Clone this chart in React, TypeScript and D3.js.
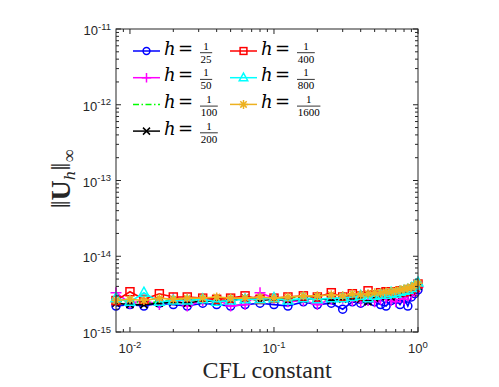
import React from "react";
import * as d3 from "d3";

// CFL values (shared by all runs)
const cfl = [0.008, 0.01, 0.0125, 0.016, 0.02, 0.025, 0.032, 0.04, 0.05, 0.063, 0.08, 0.1, 0.125, 0.16, 0.2, 0.25, 0.3, 0.35, 0.4, 0.45, 0.5, 0.55, 0.6, 0.65, 0.7, 0.75, 0.8, 0.85, 0.9, 0.95, 1.0];

// error values, in units of 1e-15
const h25 = [2.2, 2.3, 2.2, 2.4, 2.3, 2.2, 2.4, 2.3, 2.2, 2.3, 2.4, 2.3, 2.2, 2.5, 2.3, 2.4, 2.0, 2.5, 2.4, 2.6, 2.5, 2.3, 2.2, 2.6, 2.7, 2.3, 2.8, 2.2, 2.9, 3.2, 3.6];
const h50 = [3.3, 2.4, 2.6, 2.3, 2.8, 2.2, 2.6, 2.7, 2.2, 2.3, 3.3, 2.8, 2.5, 2.6, 2.3, 2.7, 2.8, 2.6, 2.5, 2.6, 2.5, 2.7, 2.8, 2.6, 2.5, 2.9, 2.7, 3.0, 3.1, 3.4, 3.9];
const h100 = [2.5, 2.6, 2.4, 2.5, 2.7, 2.6, 2.7, 2.9, 2.6, 2.7, 2.8, 2.7, 2.8, 2.9, 2.7, 2.8, 2.9, 3.0, 2.9, 3.0, 3.1, 3.0, 3.2, 3.1, 3.3, 3.4, 3.5, 3.6, 3.8, 4.0, 4.2];
const h200 = [2.4, 2.3, 2.3, 2.4, 2.5, 2.4, 2.6, 2.5, 2.6, 2.8, 2.6, 2.7, 2.6, 2.7, 2.8, 2.6, 2.7, 2.8, 2.7, 2.5, 2.8, 2.9, 3.0, 2.9, 3.1, 3.2, 3.3, 3.3, 3.5, 3.7, 4.0];
const h400 = [2.6, 3.4, 2.7, 3.2, 2.9, 2.9, 2.8, 2.7, 2.8, 3.0, 2.7, 2.8, 2.9, 3.0, 2.9, 3.3, 2.9, 3.2, 3.0, 3.5, 3.1, 3.3, 3.4, 3.2, 3.4, 3.5, 3.4, 3.6, 3.7, 3.9, 4.3];
const h800 = [2.8, 2.5, 3.3, 2.5, 2.6, 2.6, 2.7, 2.5, 2.6, 2.7, 2.7, 2.8, 2.6, 2.8, 2.7, 2.8, 2.8, 2.9, 3.0, 2.8, 3.0, 3.1, 3.1, 3.3, 3.2, 3.4, 3.5, 3.6, 3.8, 4.1, 4.5];
const h1600 = [2.6, 2.7, 2.6, 2.8, 2.7, 2.8, 2.8, 2.9, 2.8, 2.8, 2.9, 2.8, 2.9, 3.0, 3.0, 3.1, 3.0, 3.2, 3.1, 3.2, 3.3, 3.3, 3.4, 3.4, 3.5, 3.6, 3.7, 3.8, 3.9, 4.1, 4.4];

const denoms = ["25", "50", "100", "200", "400", "800", "1600"];
const colors = ["#0000ff", "#ff00ff", "#00ff00", "#000000", "#ff0000", "#00ffff", "#edb120"];
const markers = ["circle", "plus", "none", "cross", "square", "triangle", "star"];
const seriesVals = [h25, h50, h100, h200, h400, h800, h1600];

const xTickExp = [-2, -1, 0];
const yTickExp = [-15, -14, -13, -12, -11];

const W = 499, H = 387;
const left = 116, right = 418, top = 29, bottom = 332;

const x = d3.scaleLog().domain([0.008, 1]).range([left, right]);
const y = d3.scaleLog().domain([1e-15, 1e-11]).range([bottom, top]);

const Marker = ({ type, cx, cy, color, k = 1 }: { type: string; cx: number; cy: number; color: string; k?: number }) => {
  const p = { fill: "none", stroke: color, strokeWidth: 1.5 };
  if (type === "circle") return <circle cx={cx} cy={cy} r={4 * k} {...p} />;
  if (type === "plus") return <path d={`M${cx - 5.5 * k},${cy}H${cx + 5.5 * k}M${cx},${cy - 5.5 * k}V${cy + 5.5 * k}`} {...p} />;
  if (type === "cross") return <path d={`M${cx - 3.5},${cy - 3.5}L${cx + 3.5},${cy + 3.5}M${cx - 3.5},${cy + 3.5}L${cx + 3.5},${cy - 3.5}`} {...p} />;
  if (type === "square") return <rect x={cx - 4 * k} y={cy - 4 * k} width={8 * k} height={8 * k} {...p} />;
  if (type === "triangle") return <path d={`M${cx},${cy - 5.5 * k}L${cx + 5 * k},${cy + 3.5 * k}L${cx - 5 * k},${cy + 3.5 * k}Z`} {...p} />;
  if (type === "star")
    return <path d={`M${cx - 4.5},${cy}H${cx + 4.5}M${cx},${cy - 4.5}V${cy + 4.5}M${cx - 3.2},${cy - 3.2}L${cx + 3.2},${cy + 3.2}M${cx - 3.2},${cy + 3.2}L${cx + 3.2},${cy - 3.2}`} {...p} />;
  return null;
};

const App = () => {
  const line = d3.line<[number, number]>().x((d) => x(d[0])).y((d) => y(d[1]));

  const xMinor: number[] = [];
  [0.001, 0.01, 0.1].forEach((b) => { for (let k = 2; k <= 9; k++) { const v = b * k; if (v > 0.008 && v < 1) xMinor.push(v); } });
  const yMinor: number[] = [];
  [1e-15, 1e-14, 1e-13, 1e-12].forEach((b) => { for (let k = 2; k <= 9; k++) yMinor.push(b * k); });

  const axisColor = "#262626";
  const tickFont = "'Liberation Sans', Arial, sans-serif";
  const serif = "'Liberation Serif', 'Times New Roman', serif";
  const mathFont = "'DejaVu Serif', 'Liberation Serif', serif";

  return (
    <svg width={W} height={H} style={{ position: "absolute", left: 0, top: 0, background: "#fff" }}>
      <rect x={0} y={0} width={W} height={H} fill="#fff" />
      {/* data */}
      {seriesVals.map((vals, si) => {
        const pts: [number, number][] = cfl.map((c, i) => [c, vals[i] * 1e-15]);
        return (
          <g key={si}>
            <path d={line(pts) || ""} fill="none" stroke={colors[si]} strokeWidth={1.6}
              strokeDasharray={si === 2 ? "6,2.5,1.5,2.5" : undefined} />
            {pts.map((p, i) => <Marker key={i} type={markers[si]} cx={x(p[0])} cy={y(p[1])} color={colors[si]} />)}
          </g>
        );
      })}
      {/* axes box */}
      <rect x={left} y={top} width={right - left} height={bottom - top} fill="none" stroke={axisColor} strokeWidth={1} />
      {xTickExp.map((e) => {
        const px = x(Math.pow(10, e));
        return (
          <g key={"xt" + e}>
            <line x1={px} x2={px} y1={bottom} y2={bottom - 5} stroke={axisColor} />
            <line x1={px} x2={px} y1={top} y2={top + 5} stroke={axisColor} />
            <text x={px} y={353} textAnchor="middle" fontFamily={tickFont} fontSize={13} fill={axisColor}>
              10<tspan dy={-5.5} fontSize={9.5}>{e}</tspan>
            </text>
          </g>
        );
      })}
      {xMinor.map((v, i) => (
        <g key={"xm" + i}>
          <line x1={x(v)} x2={x(v)} y1={bottom} y2={bottom - 3} stroke={axisColor} />
          <line x1={x(v)} x2={x(v)} y1={top} y2={top + 3} stroke={axisColor} />
        </g>
      ))}
      {yTickExp.map((e) => {
        const py = y(Math.pow(10, e));
        return (
          <g key={"yt" + e}>
            <line x1={left} x2={left + 5} y1={py} y2={py} stroke={axisColor} />
            <line x1={right} x2={right - 5} y1={py} y2={py} stroke={axisColor} />
            <text x={111} y={py + 6} textAnchor="end" fontFamily={tickFont} fontSize={13} fill={axisColor}>
              10<tspan dy={-5.5} fontSize={9.5}>{e}</tspan>
            </text>
          </g>
        );
      })}
      {yMinor.map((v, i) => (
        <g key={"ym" + i}>
          <line x1={left} x2={left + 3} y1={y(v)} y2={y(v)} stroke={axisColor} />
          <line x1={right} x2={right - 3} y1={y(v)} y2={y(v)} stroke={axisColor} />
        </g>
      ))}
      {/* axis labels */}
      <text x={(left + right) / 2} y={378} textAnchor="middle" fontFamily={serif} fontSize={24} fill={axisColor}>CFL constant</text>
      <text transform={`translate(70,179) rotate(-90)`} textAnchor="middle" fontFamily={serif} fontSize={28} fill={axisColor}>
        ‖<tspan fontWeight="bold">U</tspan><tspan fontFamily={mathFont} fontStyle="italic" fontSize={15} dy={5}>h</tspan><tspan dy={-5}>‖</tspan><tspan fontSize={18} dy={5}>∞</tspan>
      </text>
      {/* legend */}
      {denoms.map((d, i) => {
        const col = i < 4 ? 0 : 1;
        const row = i < 4 ? i : i - 4;
        const lx = col === 0 ? 133 : 230;
        const cy = 51 + row * 26.7;
        const tx = lx + 31;
        const fw = d.length * 5.6 + 1;
        const fx = tx + 36;
        return (
          <g key={"lg" + i}>
            <line x1={lx} x2={lx + 27} y1={cy} y2={cy} stroke={colors[i]} strokeWidth={1.5}
              strokeDasharray={i === 2 ? "6,2.5,1.5,2.5" : undefined} />
            <Marker type={markers[i]} cx={lx + 13.5} cy={cy} color={colors[i]} k={0.85} />
            <text x={tx} y={cy + 3.5} fontFamily={mathFont} fontSize={18} fontStyle="italic" fill="#000">h</text>
            <text x={tx + 14} y={cy + 3.5} fontFamily={mathFont} fontSize={18} fill="#000">=</text>
            <line x1={fx} x2={fx + fw} y1={cy + 1.7} y2={cy + 1.7} stroke="#000" strokeWidth={0.8} />
            <text x={fx + fw / 2} y={cy - 1.5} textAnchor="middle" fontFamily={serif} fontSize={11} fill="#000">1</text>
            <text x={fx + fw / 2} y={cy + 11.5} textAnchor="middle" fontFamily={serif} fontSize={11} fill="#000">{d}</text>
          </g>
        );
      })}
    </svg>
  );
};

export default App;
